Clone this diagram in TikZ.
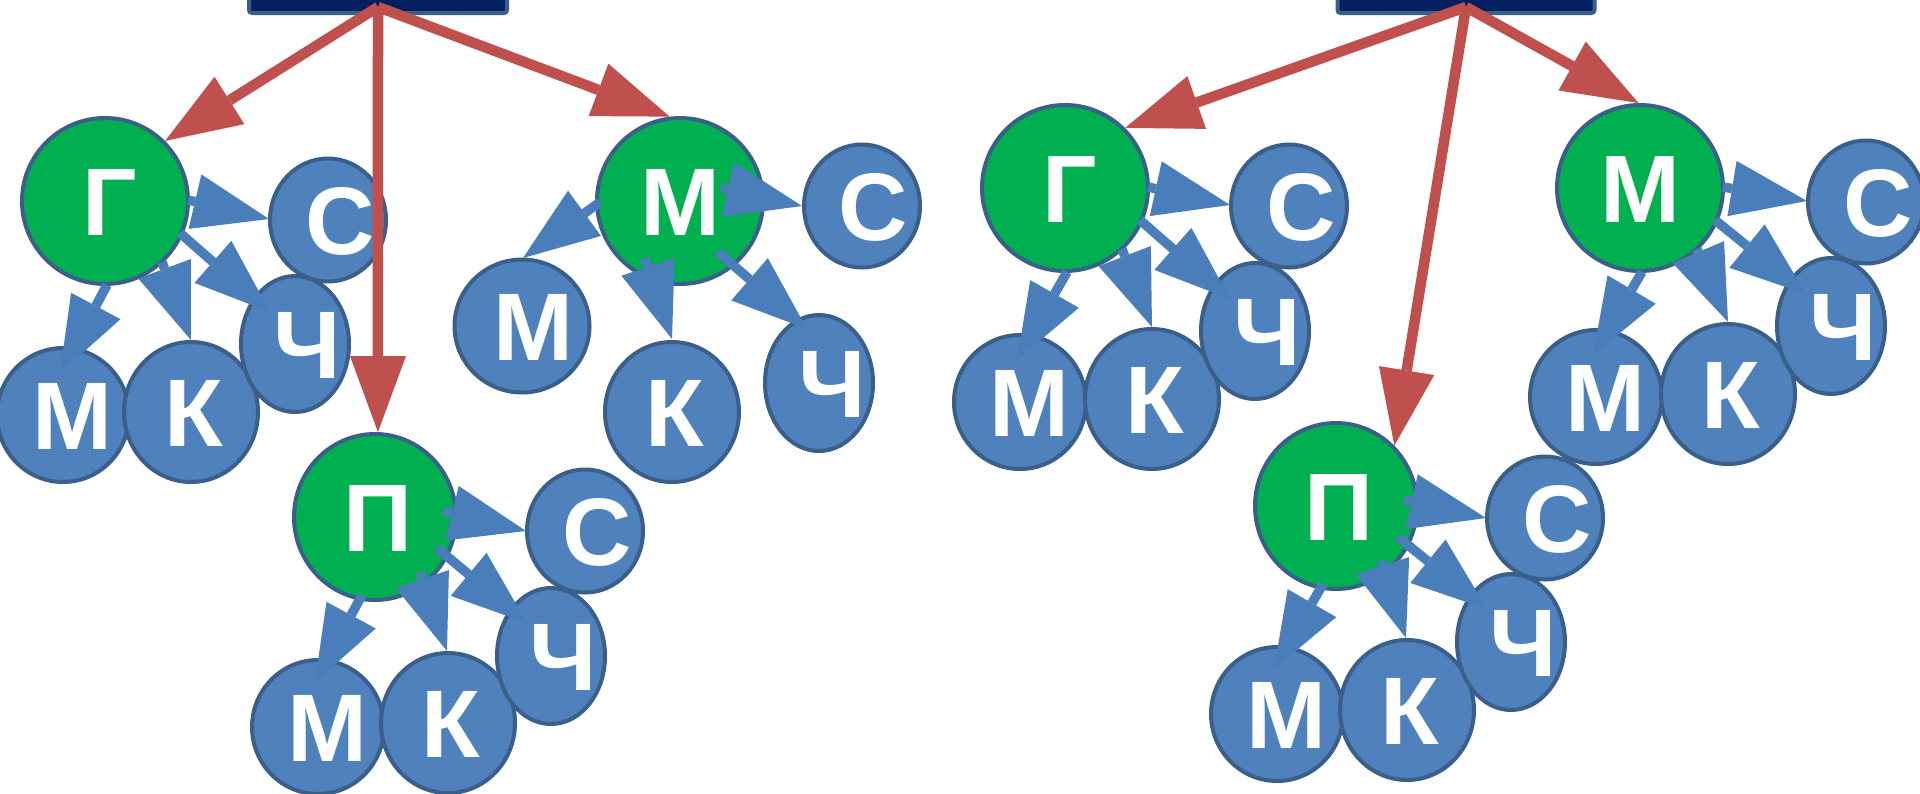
\documentclass[tikz,border=0pt]{standalone}
\usepackage{fontspec}
\setmainfont{Liberation Sans}
\newfontfamily\ndfont{Liberation Sans Bold}
\usetikzlibrary{arrows.meta,shapes.geometric,calc}
\definecolor{gfill}{HTML}{00B050}
\definecolor{bfill}{HTML}{4F81BD}
\definecolor{bline}{HTML}{3A5F8B}
\definecolor{rarrow}{HTML}{C0504D}
\definecolor{barrow}{HTML}{4A7EBB}
\definecolor{navy}{HTML}{021F5F}
\newcommand\nodeltr[2]{\makebox[0pt]{\kern#1pt\kern#1pt\raisebox{-34.5pt}[0pt][0pt]{\ndfont\fontsize{96}{96}\selectfont #2}}}
\tikzset{
  nd/.style={ellipse, draw=bline, line width=4pt, inner sep=0pt, text=white},
  par/.style={nd, fill=gfill, minimum width=166pt, minimum height=166pt},
  parp/.style={nd, fill=gfill, minimum width=162pt, minimum height=166pt},
  cn/.style={nd, fill=bfill, minimum width=116pt, minimum height=123pt},
  hn/.style={nd, fill=bfill, minimum width=108pt, minimum height=136pt},
  kn/.style={nd, fill=bfill, minimum width=134pt, minimum height=140pt},
  mn/.style={nd, fill=bfill, minimum width=132pt, minimum height=134pt},
  toprect/.style={rectangle, draw=bline, fill=navy, line width=4pt, rounded corners=3pt, inner sep=0pt, minimum height=60pt},
  barr/.style={draw=barrow, line width=9.5pt, -{Triangle[length=76pt,width=56pt,line width=0pt]}},
  rarr/.style={draw=rarrow, line width=10.5pt, -{Triangle[length=76pt,width=56pt,line width=0pt]}}
}
\begin{document}
\begin{tikzpicture}[x=1pt,y=-1pt]
\useasboundingbox (0,0) rectangle (1920,793);
\clip (0,0) rectangle (1920,793);
\fill[white] (0,0) rectangle (1920,793);

% top boxes
\node[toprect, minimum width=258pt, anchor=south] (LR) at (378,15) {};
\node[toprect, minimum width=257pt, anchor=south] (RR) at (1466,15) {};

% left group: Г
\node[par] (LGp) at (105,201) {\nodeltr{4.5}{Г}};
\node[cn] (LGc) at (328,220) {\nodeltr{12}{С}};
\node[mn] (LGm) at (63,415) {\nodeltr{9.5}{М}};
\node[kn] (LGk) at (191,412) {\nodeltr{3}{К}};
\node[hn] (LGh) at (295,344) {\nodeltr{12}{Ч}};

% left group: М
\node[par] (LMp) at (680,201) {\nodeltr{0}{М}};
\node[cn] (LMc) at (862,206) {\nodeltr{11}{С}};
\node[mn, minimum width=135pt, minimum height=133pt] (LMm) at (522,326) {\nodeltr{11}{М}};
\node[kn] (LMk) at (672,412) {\nodeltr{2.5}{К}};
\node[hn] (LMh) at (819,383) {\nodeltr{13}{Ч}};

% right group: Г
\node[par] (RGp) at (1065,188) {\nodeltr{4.5}{Г}};
\node[cn] (RGc) at (1289,206) {\nodeltr{12}{С}};
\node[mn] (RGm) at (1020,402) {\nodeltr{9.5}{М}};
\node[kn] (RGk) at (1152,399) {\nodeltr{3}{К}};
\node[hn] (RGh) at (1255,331) {\nodeltr{12}{Ч}};

% right group: М
\node[par] (RMp) at (1640,188) {\nodeltr{0}{М}};
\node[cn] (RMc) at (1866,202) {\nodeltr{12}{С}};
\node[mn] (RMm) at (1596,397) {\nodeltr{9.5}{М}};
\node[kn] (RMk) at (1728,394) {\nodeltr{3}{К}};
\node[hn] (RMh) at (1831,326) {\nodeltr{12}{Ч}};

% left group: П
\node[parp] (LPp) at (375,517) {\nodeltr{3}{П}};
\node[cn] (LPc) at (585,531) {\nodeltr{12}{С}};
\node[mn] (LPm) at (318,727) {\nodeltr{9.5}{М}};
\node[kn] (LPk) at (448,723) {\nodeltr{3}{К}};
\node[hn] (LPh) at (551,656) {\nodeltr{12}{Ч}};

% right group: П
\node[parp] (RPp) at (1336,506) {\nodeltr{3}{П}};
\node[cn] (RPc) at (1545,518) {\nodeltr{12}{С}};
\node[mn] (RPm) at (1277,714) {\nodeltr{9.5}{М}};
\node[kn] (RPk) at (1407,710) {\nodeltr{3}{К}};
\node[hn] (RPh) at (1511,642) {\nodeltr{12}{Ч}};

% blue arrows, groups laid out alike
\foreach \g in {LG,RG,RM}{
  \draw[barr] ($(\g p)+(83,-1)$) -- ($(\g c)+(-59,-1)$);
  \draw[barr] ($(\g p)+(75,32)$) -- ($(\g h)+(-25,-32)$);
  \draw[barr] ($(\g p)+(57,61)$) -- ($(\g k)+(0,-72)$);
  \draw[barr] ($(\g p)+(2,84)$) -- ($(\g m)+(-3,-42)$);
}
\foreach \g in {LP,RP}{
  \draw[barr] ($(\g p)+(68,-6)$) -- ($(\g c)+(-59,0)$);
  \draw[barr] ($(\g p)+(62,31)$) -- ($(\g h)+(-24,-33)$);
  \draw[barr] ($(\g p)+(45,55)$) -- ($(\g k)+(-1,-72)$);
  \draw[barr] ($(\g p)+(-13,78)$) -- ($(\g m)+(-3,-45)$);
}
\draw[barr] ($(LMp)+(41,-13)$) -- ($(LMc)+(-60,0)$);
\draw[barr] ($(LMp)+(38,51)$) -- ($(LMh)+(-12,-54)$);
\draw[barr] ($(LMp)+(-35,57)$) -- ($(LMk)+(0,-73)$);
\draw[barr] ($(LMp)+(-80,1)$) -- ($(LMm)+(1,-68)$);

% red arrows
\draw[rarr] ([yshift=8pt]LR.south) -- (LGp.45);
\draw[rarr] ([yshift=8pt]LR.south) -- (LPp.88);
\draw[rarr] ([yshift=8pt]LR.south) -- (LMp.97);
\draw[rarr] ([yshift=8pt]RR.south) -- (RGp.45);
\draw[rarr] ([yshift=8pt]RR.south) -- (RPp.46);
\draw[rarr] ([yshift=8pt]RR.south) -- (RMp.91);
\end{tikzpicture}
\end{document}
